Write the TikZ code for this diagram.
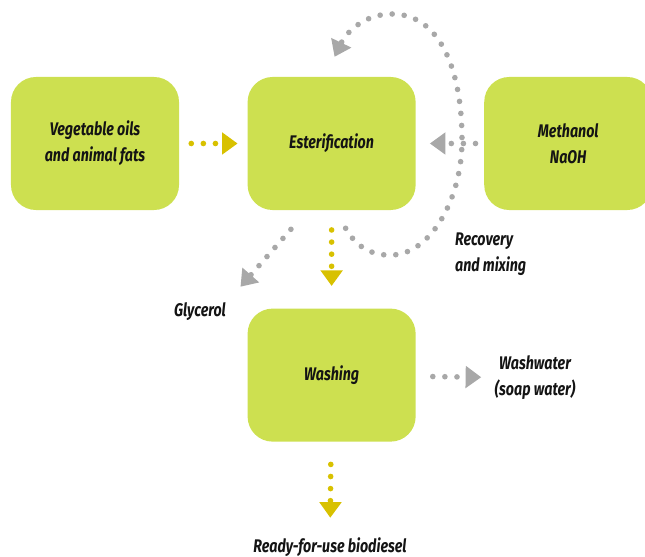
\documentclass[tikz,border=0pt]{standalone}
\usepackage{fontspec}
\setmainfont{Fira Sans}[FakeStretch=0.78]
\usepackage{tikz}
\usetikzlibrary{arrows.meta, positioning}
\definecolor{boxlime}{RGB}{205,224,80}
\definecolor{flowyellow}{RGB}{216,193,0}
\definecolor{flowgrey}{RGB}{168,168,168}
\definecolor{inkdark}{RGB}{20,20,20}

\begin{document}
\begin{tikzpicture}[
  x=0.025cm, y=-0.025cm,
  stage/.style={rectangle, fill=boxlime, rounded corners=17.8pt, minimum width=4.2cm, minimum height=3.325cm, font=\fontsize{13pt}{18.5pt}\selectfont\bfseries\itshape, text=inkdark, align=center},
  tag/.style={font=\fontsize{13pt}{18.5pt}\selectfont\bfseries\itshape, text=inkdark, align=center, inner sep=2pt},
  dotline/.style={line width=4pt, line cap=round, dash pattern=on 0pt off 8.6pt},
  yflow/.style={dotline, draw=flowyellow, -{Triangle[length=11pt, width=16pt, line width=0pt]}},
  gflow/.style={dotline, draw=flowgrey, -{Triangle[length=11pt, width=16pt, line width=0pt]}},
  node distance=1.7cm,
]
\useasboundingbox (0,0) rectangle (645,557);

\node[stage] (veg) at (95,143.5) {Vegetable oils\\and animal fats};
\node[stage, right=of veg] (ester) {Esterification};
\node[stage, right=of ester] (meth) {Methanol\\NaOH};
\node[stage, below=2.45cm of ester] (wash) {Washing};

\node[tag] (glyc) at (200,312) {Glycerol};
\node[tag, align=left, anchor=west] (recov) at (452,254) {Recovery\\and mixing};
\node[tag] (water) at (535,378) {Washwater\\(soap water)};
\node[tag] (diesel) at (330,547) {Ready-for-use biodiesel};

\draw[yflow, shorten <=8.5pt, shorten >=7pt] (veg) -- (ester);
\draw[gflow, shorten <=6pt, shorten >=10pt] (meth) -- (ester);
\draw[yflow, shorten <=14pt, shorten >=16pt] (ester) -- (wash);
\draw[gflow, shorten <=18pt, shorten >=12.6pt] ([shift={(-24,0)}]ester.south) -- (glyc.north east);
\draw[gflow, shorten <=12pt, shorten >=7.5pt] (wash) -- (water);
\draw[yflow, shorten <=16pt, shorten >=12pt] (wash) -- (diesel);
\draw[gflow] ([shift={(14,18)}]ester.south) .. controls (355,245) and (370,256) .. (392,255)
  .. controls (430,254) and (462,200) .. (462,140)
  .. controls (462,70) and (440,14) .. (392,14)
  .. controls (362,14) and (345,35) .. ([shift={(3,-20)}]ester.north);
\end{tikzpicture}
\end{document}
